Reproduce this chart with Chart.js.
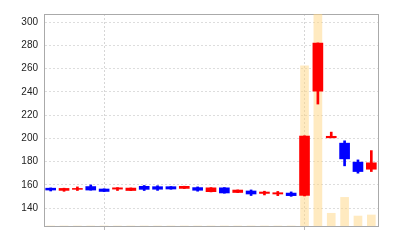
<!DOCTYPE html>
<html>
<head>
<meta charset="utf-8">
<script src="https://cdn.jsdelivr.net/npm/chart.js@4"></script>
<style>
  html, body { margin: 0; padding: 0; background: #fff; }
  #c { display: block; }
</style>
</head>
<body>
<canvas id="c" width="400" height="240"></canvas>
<script>
// ---- data ----
const labels = ['1','2','3','4','5','6','7','8','9','10','11','12','13','14','15','16','17','18','19','20','21','22','23','24','25'];
const openP  = [157.2, 155.3, 156.2, 158.6, 156.5, 156.4, 155.2, 158.8, 158.5, 158.5, 157.0, 157.7, 154.2, 157.5, 153.5, 154.8, 152.7, 152.2, 153.0, 151.0, 240.6, 200.5, 195.9, 179.6, 173.5];
const closeP = [155.6, 157.0, 157.0, 155.6, 154.4, 157.5, 157.3, 156.2, 156.3, 156.5, 158.8, 155.4, 157.5, 153.1, 155.6, 152.2, 153.9, 153.3, 150.8, 202.0, 281.9, 201.8, 182.4, 171.5, 179.0];
const highP  = [157.4, 157.2, 158.3, 160.0, 156.6, 157.7, 157.4, 159.5, 159.3, 158.6, 158.9, 158.3, 157.7, 157.7, 155.7, 155.7, 154.6, 154.4, 154.0, 202.2, 282.0, 205.4, 197.9, 181.5, 189.5];
const lowP   = [154.8, 154.5, 155.2, 155.5, 154.3, 155.2, 155.1, 155.2, 155.3, 156.3, 156.9, 154.6, 154.0, 152.9, 153.4, 150.9, 151.4, 150.8, 150.2, 150.5, 229.5, 200.5, 176.4, 170.1, 171.5];
const volume = [0, 0, 0, 0, 0, 0, 0, 0, 0, 0, 0, 0, 0, 0, 0, 0, 0, 0, 0, 75.5, 140, 6, 13.5, 4.7, 5.2];
const yTickValues = [140, 160, 180, 200, 220, 240, 260, 280, 300];
const gridMarks = ['5', '20'];

const UP = '#ff0000', DOWN = '#0000ff';
const colorAt = i => (closeP[i] >= openP[i] ? UP : DOWN);

new Chart(document.getElementById('c'), {
  type: 'bar',
  data: {
    labels: labels,
    datasets: [
      {
        label: 'body',
        data: labels.map((_, i) => [openP[i], closeP[i]]),
        backgroundColor: ctx => colorAt(ctx.dataIndex),
        barThickness: 10,
        grouped: false,
        order: 1,
        yAxisID: 'y'
      },
      {
        label: 'wick',
        data: labels.map((_, i) => [lowP[i], highP[i]]),
        backgroundColor: ctx => colorAt(ctx.dataIndex),
        barThickness: 2,
        grouped: false,
        order: 2,
        yAxisID: 'y'
      },
      {
        label: 'volume',
        data: volume,
        backgroundColor: 'rgba(255, 214, 130, 0.5)',
        barThickness: 8,
        grouped: false,
        order: 3,
        yAxisID: 'yv'
      }
    ]
  },
  options: {
    responsive: false,
    devicePixelRatio: 1,
    animation: false,
    layout: { padding: { top: 14, right: 22, left: 0, bottom: 0 } },
    plugins: { legend: { display: false }, tooltip: { enabled: false } },
    scales: {
      x: {
        type: 'category',
        offset: true,
        grid: {
          offset: false,
          color: ctx => (ctx.tick && gridMarks.includes(labels[ctx.index]) ? '#d6d6d6' : 'rgba(0,0,0,0)'),
          tickColor: ctx => (ctx.tick && gridMarks.includes(labels[ctx.index]) ? '#bbbbbb' : 'rgba(0,0,0,0)'),
          tickLength: 4,
          drawTicks: true
        },
        border: { color: '#aaaaaa', dash: [2, 2] },
        ticks: { display: false },
        afterFit: s => { s.height = 14; }
      },
      x2: {
        type: 'category',
        position: 'top',
        grid: { display: false },
        ticks: { display: false },
        border: { color: '#aaaaaa' },
        afterFit: s => { s.height = 0; }
      },
      y: {
        position: 'left',
        min: 124.7,
        max: 306.9,
        afterBuildTicks: s => { s.ticks = yTickValues.map(v => ({ value: v })); },
        grid: { color: '#dddddd', drawTicks: false },
        border: { color: '#aaaaaa', dash: [2, 2] },
        ticks: {
          padding: 6,
          color: '#222222',
          font: { family: 'Liberation Sans', size: 10 }
        },
        afterFit: s => { s.width = 44; }
      },
      yv: {
        position: 'right',
        min: 0,
        max: 100,
        grid: { display: false },
        ticks: { display: false },
        border: { color: '#aaaaaa' },
        afterFit: s => { s.width = 0; }
      }
    }
  }
});
</script>
</body>
</html>
